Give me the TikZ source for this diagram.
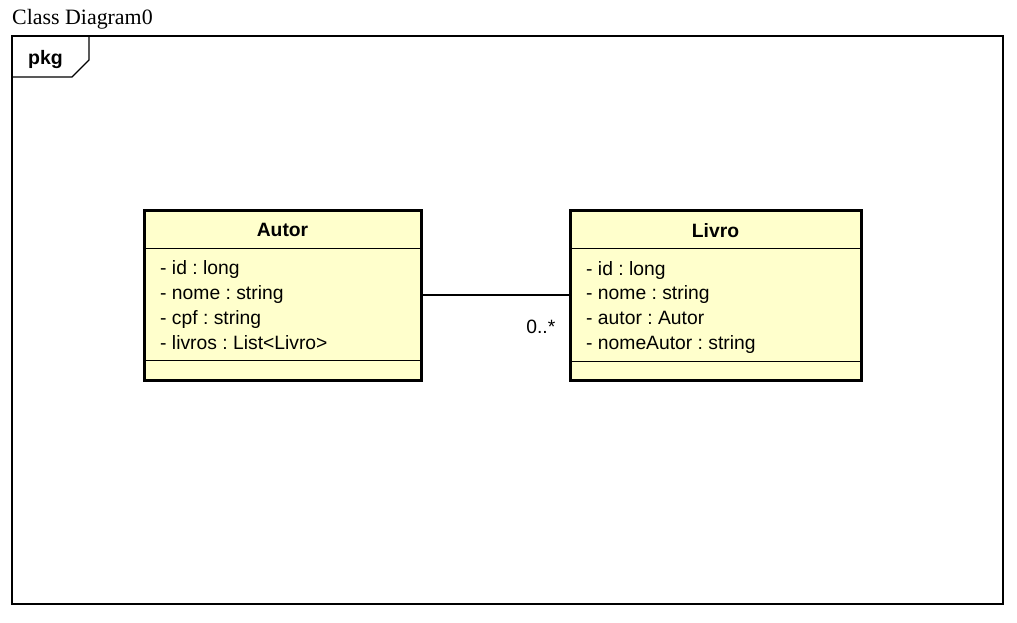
\documentclass[tikz,border=0pt]{standalone}
\usepackage{fontspec}
\setmainfont{Liberation Sans}
\newfontfamily\titlefont{Liberation Serif}
\usepackage{xcolor}
\usepackage{tikz}
\usetikzlibrary{positioning,calc}
\frenchspacing

\definecolor{umlfill}{RGB}{255,255,204}
\tikzset{
  classbox/.style={draw, line width=3pt, fill=umlfill, minimum height=170pt, inner sep=0pt},
  classname/.style={font=\bfseries\fontsize{19.3}{22}\selectfont, inner sep=0pt},
  attrs/.style={anchor=base west, align=left, inner sep=0pt, font=\fontsize{19.3}{24.8}\selectfont},
}

\begin{document}
\begin{tikzpicture}[x=1pt,y=-1pt]
    \useasboundingbox (0,0) rectangle (1017,623);
    % Frame
    \node[anchor=base west, inner sep=0pt, font=\titlefont\fontsize{21.9}{24}\selectfont] (title) at (12,25) {Class Diagram0};
    \draw[line width=1.3pt] (12,36) rectangle (1003,604);
    \draw[line width=1.3pt] (12,77) -- (72,77) -- (89,60) -- (89,36);
    \node[font=\bfseries\fontsize{19.5}{22}\selectfont, inner sep=0pt] (pkg) at (45.5,59.5) {pkg};

    % Autor
    \node[classbox, minimum width=277pt] (autor) at (282.5,295) {};
    \node[classname] (autorname) at (282.5,230) {Autor};
    \draw ($(autor.north west)+(1.5,39.5)$) -- ($(autor.north east)+(-1.5,39.5)$);
    \draw ($(autor.south west)+(1.5,-21.5)$) -- ($(autor.south east)+(-1.5,-21.5)$);
    \node[attrs] (autorattrs) at (160,349) {- id : long\\- nome : string\\- cpf : string\\- livros : List<Livro>};

    % Livro
    \node[classbox, minimum width=291pt] (livro) at (715.5,295) {};
    \node[classname] (livroname) at (715.5,231) {Livro};
    \draw ($(livro.north west)+(1.5,39.5)$) -- ($(livro.north east)+(-1.5,39.5)$);
    \draw ($(livro.south west)+(1.5,-20.5)$) -- ($(livro.south east)+(-1.5,-20.5)$);
    \node[attrs] (livroattrs) at (586,349.5) {- id : long\\- nome : string\\- autor : Autor\\- nomeAutor : string};

    % Association
    \draw[line width=1.3pt] (autor) -- (livro);
    \node[anchor=base east, inner sep=0pt, font=\fontsize{19.3}{22}\selectfont] (mult) at ($(livro.west)+(-13,38)$) {0..*};
\end{tikzpicture}
\end{document}
